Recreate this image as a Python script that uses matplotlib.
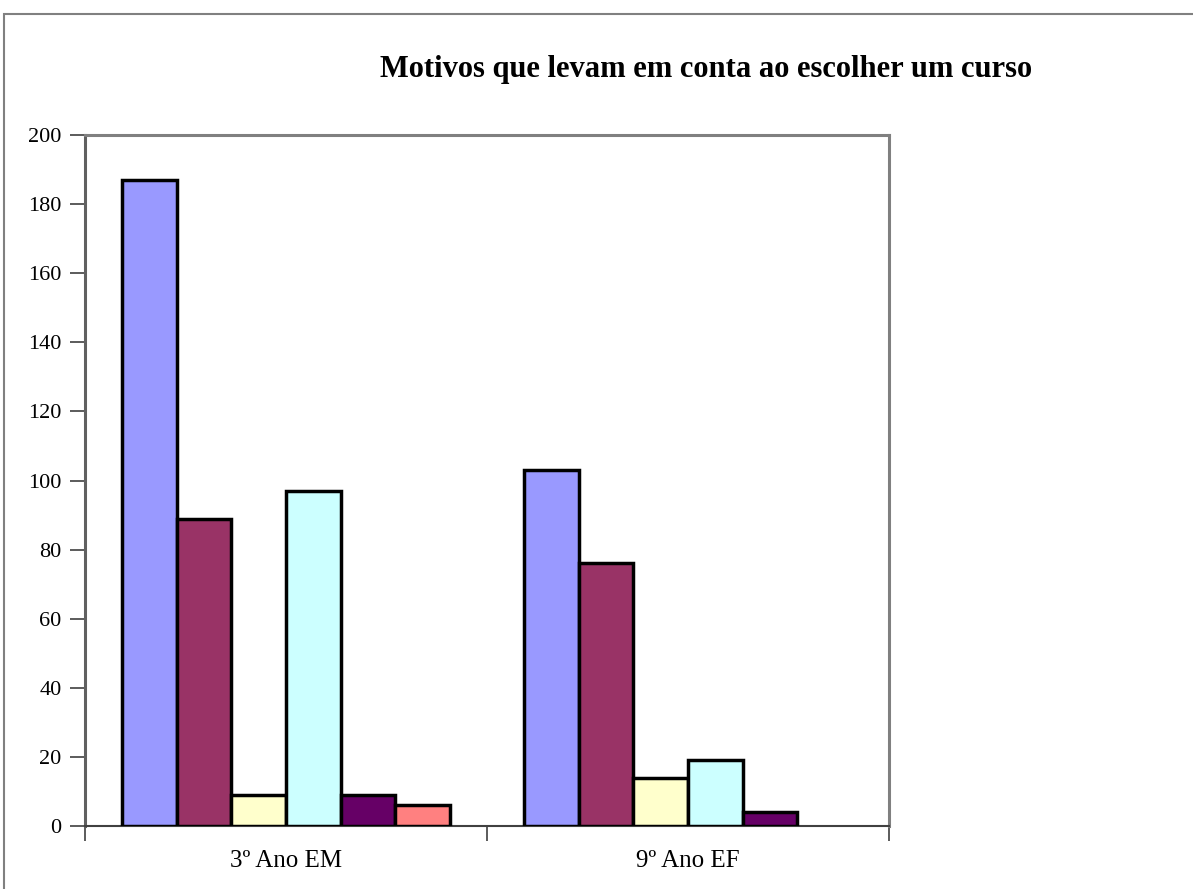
import numpy as np
import matplotlib
matplotlib.use("Agg")
import matplotlib.pyplot as plt
from matplotlib.patches import Rectangle

categories = ["3º Ano EM", "9º Ano EF"]
series_values = [
    [187, 103],
    [89, 76],
    [9, 14],
    [97, 19],
    [9, 4],
    [6, 0],
]
colors = ["#9999FF", "#993366", "#FFFFCC", "#CCFFFF", "#660066", "#FF8080"]
y_ticks = [0, 20, 40, 60, 80, 100, 120, 140, 160, 180, 200]

W, H = 1193, 889
fig = plt.figure(figsize=(W / 100, H / 100), dpi=100)
fig.patch.set_facecolor("white")

# outer chart border
fig.patches.append(Rectangle((4 / W, -0.1), 1.2, (H - 14) / H + 0.1,
                             transform=fig.transFigure, fill=False,
                             edgecolor="#808080", linewidth=1.5))

ax = fig.add_axes([85 / W, 1 - 826 / H, (889 - 85) / W, (826 - 135) / H])

n_series = len(series_values)
bar_w = 0.136
x = np.arange(len(categories))
offsets = (np.arange(n_series) - (n_series - 1) / 2) * bar_w
for vals, off, c in zip(series_values, offsets, colors):
    vals = np.asarray(vals, dtype=float)
    keep = vals > 0
    ax.bar(x[keep] + off, vals[keep], width=bar_w, color=c,
           edgecolor="black", linewidth=2.5, zorder=3)

ax.set_xlim(-0.5, 1.5)
ax.set_ylim(0, 200)
ax.set_yticks(y_ticks)
ax.set_yticklabels([str(t) for t in y_ticks], fontfamily="Liberation Serif",
                   fontsize=16)
ax.set_xticks([-0.5, 0.5, 1.5], minor=False)
ax.set_xticklabels([])
ax.set_xticks(x, minor=True)
ax.set_xticklabels(categories, minor=True, fontfamily="Liberation Serif",
                   fontsize=18)
ax.tick_params(axis="x", which="minor", length=0, pad=17)
ax.tick_params(axis="x", which="major", length=11, width=1.2, color="#404040",
               direction="out")
ax.tick_params(axis="y", length=11, width=1.2, color="#404040",
               direction="out", pad=6)

for side in ["top", "left", "right"]:
    ax.spines[side].set_color("#808080")
    ax.spines[side].set_linewidth(2.2)
ax.spines["left"].set_color("#606060")
ax.spines["bottom"].set_color("#404040")
ax.spines["bottom"].set_linewidth(1.5)

fig.text(706 / W, 1 - 77 / H, "Motivos que levam em conta ao escolher um curso",
         ha="center", va="baseline", fontfamily="Liberation Serif",
         fontweight="bold", fontsize=22)

fig.savefig("out.png", dpi=100, facecolor="white")
